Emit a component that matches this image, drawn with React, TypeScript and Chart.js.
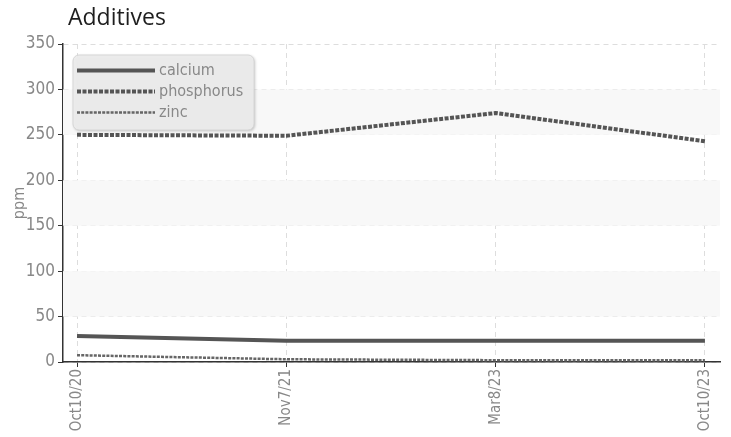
import React, { useEffect, useRef } from "react";
import { Chart, registerables } from "chart.js";
Chart.register(...registerables);

const categories = ["Oct10/20", "Nov7/21", "Mar8/23", "Oct10/23"];
const calcium = [28.5, 23.5, 23.5, 23.5];
const phosphorus = [250, 249, 274, 243];
const zinc = [7.5, 3, 2, 2];
const seriesNames = ["calcium", "phosphorus", "zinc"];
const yTickValues = [0, 50, 100, 150, 200, 250, 300, 350];

const NARROW = "'DejaVu Sans Condensed', 'DejaVu Sans', sans-serif";

const bandsPlugin = {
  id: "bands",
  beforeDatasetsDraw(chart: any) {
    const { ctx, chartArea, scales } = chart;
    const y = scales.y;
    ctx.save();
    ctx.fillStyle = "#f8f8f8";
    for (let i = 0; i < yTickValues.length - 1; i++) {
      if (i % 2 === 1) {
        const top = y.getPixelForValue(yTickValues[i + 1]);
        const bot = y.getPixelForValue(yTickValues[i]);
        ctx.fillRect(chartArea.left, top, chartArea.right - chartArea.left, bot - top);
      }
    }
    ctx.restore();
  },
};

const titlePlugin = {
  id: "customTitle",
  afterDraw(chart: any) {
    const { ctx } = chart;
    ctx.save();
    ctx.font = "23px 'Open Sans', 'Noto Sans', sans-serif";
    ctx.fillStyle = "#1e1e1e";
    ctx.textBaseline = "alphabetic";
    ctx.textAlign = "left";
    ctx.fillText("Additives", 68, 25);
    ctx.restore();
  },
};

const legendPlugin = {
  id: "insideLegend",
  afterDraw(chart: any) {
    const { ctx, chartArea } = chart;
    const x0 = chartArea.left + 10;
    const y0 = chartArea.top + 11;
    const w = 181;
    const h = 75;
    ctx.save();
    ctx.shadowColor = "rgba(0,0,0,0.25)";
    ctx.shadowBlur = 3;
    ctx.shadowOffsetX = 1;
    ctx.shadowOffsetY = 1;
    ctx.beginPath();
    ctx.roundRect(x0, y0, w, h, 6);
    ctx.fillStyle = "rgba(236,236,236,0.95)";
    ctx.fill();
    ctx.shadowColor = "transparent";
    ctx.strokeStyle = "#d6d6d6";
    ctx.lineWidth = 1;
    ctx.stroke();
    chart.data.datasets.forEach((ds: any, i: number) => {
      const cy = y0 + 15.5 + i * 21;
      ctx.beginPath();
      ctx.setLineDash(ds.borderDash || []);
      ctx.lineWidth = ds.borderWidth;
      ctx.strokeStyle = ds.borderColor;
      ctx.moveTo(x0 + 4, cy);
      ctx.lineTo(x0 + 82, cy);
      ctx.stroke();
      ctx.setLineDash([]);
      ctx.font = "condensed 16px " + NARROW;
      ctx.fillStyle = "#888";
      ctx.textBaseline = "middle";
      ctx.textAlign = "left";
      ctx.fillText(ds.label, x0 + 86, cy);
    });
    ctx.restore();
  },
};

export default function App() {
  const ref = useRef<HTMLCanvasElement>(null);
  useEffect(() => {
    document.body.style.margin = "0";
    const mk = (arr: number[]) => arr.map((v, i) => ({ x: i, y: v }));
    const chart = new Chart(ref.current!, {
      type: "line",
      data: {
        datasets: [
          {
            label: seriesNames[0],
            data: mk(calcium),
            borderColor: "#555",
            borderWidth: 4,
            borderDash: [],
            pointRadius: 0,
            tension: 0,
          },
          {
            label: seriesNames[1],
            data: mk(phosphorus),
            borderColor: "#555",
            borderWidth: 4,
            borderDash: [4, 1.5],
            pointRadius: 0,
            tension: 0,
          },
          {
            label: seriesNames[2],
            data: mk(zinc),
            borderColor: "#666",
            borderWidth: 2.5,
            borderDash: [3, 1.2],
            pointRadius: 0,
            tension: 0,
          },
        ] as any,
      },
      options: {
        animation: false,
        responsive: false,
        devicePixelRatio: 1,
        layout: { padding: { top: 44, right: 11, left: 0, bottom: 0 } },
        plugins: { legend: { display: false }, tooltip: { enabled: false }, title: { display: false } },
        scales: {
          x: {
            type: "linear",
            min: -0.067,
            max: 3.072,
            afterBuildTicks: (s: any) => {
              s.ticks = categories.map((_, i) => ({ value: i }));
            },
            afterFit: (s: any) => {
              s.height = 75;
            },
            ticks: {
              callback: (v: any) => categories[v] ?? "",
              minRotation: 90,
              maxRotation: 90,
              color: "#888",
              font: { family: NARROW, size: 15, style: "condensed" as any },
              padding: 2,
            },
            grid: {
              color: "#dddddd",
              lineWidth: 1,
              tickColor: "#333",
              tickLength: 5,
              tickBorderDash: [],
            },
            border: { color: "#333", width: 1.5, dash: [5, 4] as any },
          },
          y: {
            min: 0,
            max: 350,
            afterBuildTicks: (s: any) => {
              s.ticks = yTickValues.map((v) => ({ value: v }));
            },
            afterFit: (s: any) => {
              s.width = 63;
            },
            title: {
              display: true,
              text: "ppm",
              color: "#888",
              font: { family: NARROW, size: 16, style: "condensed" as any },
              padding: { top: 10, bottom: 0 },
            },
            ticks: {
              color: "#888",
              font: { family: NARROW, size: 17, style: "condensed" as any },
              padding: 3,
            },
            grid: {
              color: "#dddddd",
              lineWidth: 1,
              tickColor: "#333",
              tickLength: 5,
              tickBorderDash: [],
            },
            border: { color: "#333", width: 1.5, dash: [5, 4] as any },
          },
        },
      },
      plugins: [bandsPlugin, titlePlugin, legendPlugin],
    });
    return () => chart.destroy();
  }, []);
  return <canvas ref={ref} width={731} height={437} style={{ display: "block" }} />;
}
